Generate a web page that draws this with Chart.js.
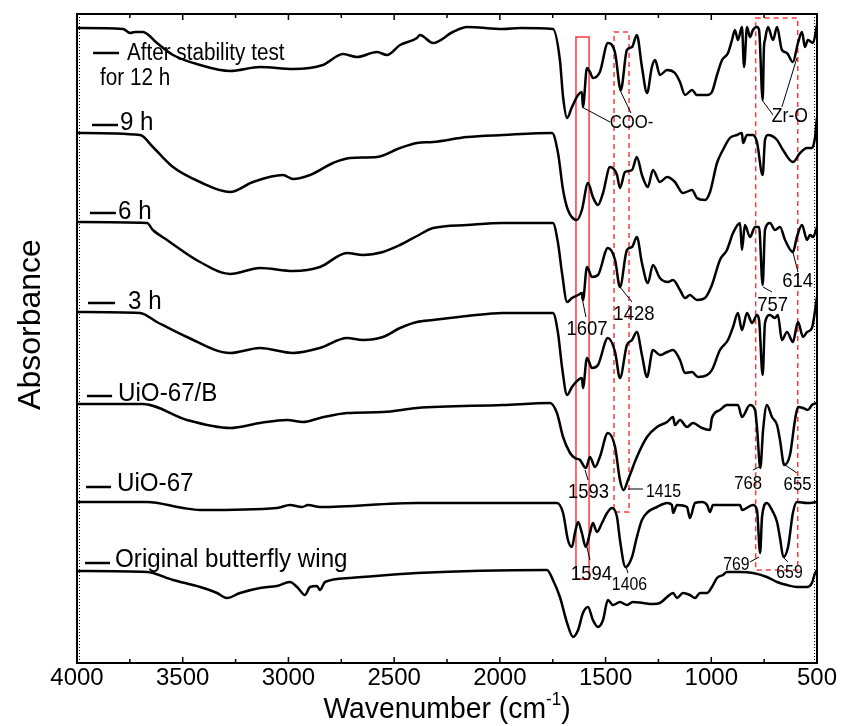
<!DOCTYPE html>
<html>
<head>
<meta charset="utf-8">
<script src="https://cdn.jsdelivr.net/npm/chart.js@4.4.0/dist/chart.umd.min.js"></script>
<style>
html, body { margin: 0; padding: 0; background: #fff; }
</style>
</head>
<body>
<canvas id="ftirChart" width="841" height="726"></canvas>
<script>
// FTIR spectra, stacked (arbitrary absorbance offsets)
var seriesNames = ['After stability test', '9 h', '6 h', ' 3 h', 'UiO-67/B', 'UiO-67', 'Original butterfly wing'];
var xTicks = [4000, 3500, 3000, 2500, 2000, 1500, 1000, 500];

var wn12h = [4000,3782,3749,3726,3688,3622,3546,3418,3276,3134,2978,2837,2742,2676,2581,2534,2472,2392,2378,2316,2222,2155,1985,1905,1749,1716,1701,1682,1659,1630,1612,1607,1588,1574,1560,1527,1489,1455,1428,1399,1375,1352,1328,1304,1281,1266,1243,1209,1172,1148,1124,1091,1068,1020,997,973,949,921,902,888,874,855,845,831,817,803,784,774,757,751,746,732,708,689,666,642,614,590,571,557,543,519,500];
var ab12h = [6.35,6.34,6.30,6.31,6.31,6.20,6.08,5.98,5.92,5.96,5.94,5.98,6.09,6.06,6.11,6.08,6.18,6.25,6.28,6.20,6.31,6.36,6.34,6.35,6.34,6.03,5.66,5.45,5.56,5.68,5.71,5.56,5.95,5.91,5.85,5.91,6.20,6.10,5.73,6.13,6.16,6.28,5.96,5.70,5.96,6.03,5.88,5.93,5.90,5.81,5.68,5.73,5.68,5.68,5.71,5.88,6.03,6.10,6.23,6.33,6.23,6.36,5.96,6.36,6.26,6.33,6.36,6.33,5.63,6.15,6.23,6.36,6.23,6.36,6.13,6.10,6.01,6.20,6.31,6.16,6.23,6.20,6.38];

var wn9h = [4000,3702,3641,3546,3418,3276,3168,3026,2978,2898,2789,2709,2581,2472,2392,2316,2155,1985,1753,1725,1701,1678,1635,1612,1583,1560,1536,1512,1479,1446,1432,1408,1375,1352,1328,1300,1276,1243,1209,1172,1134,1091,1068,1030,1006,973,945,912,878,855,850,831,803,784,757,746,732,689,661,614,580,547,524,509,500];
var ab9h = [5.30,5.28,5.16,4.96,4.81,4.71,4.81,4.88,4.84,4.88,5.00,5.05,5.06,5.15,5.20,5.21,5.26,5.28,5.30,5.10,4.73,4.53,4.43,4.53,4.80,4.66,4.58,4.70,4.96,4.88,4.75,4.91,4.93,5.06,4.88,4.76,4.93,4.81,4.86,4.81,4.70,4.73,4.65,4.63,4.71,5.00,5.13,5.25,5.28,5.30,5.20,5.28,5.28,5.21,4.88,5.23,5.28,5.23,5.13,5.01,5.10,5.15,5.15,5.26,5.46];

var wn6h = [4000,3669,3641,3574,3418,3276,3134,2978,2851,2723,2647,2553,2472,2392,2316,2155,1985,1749,1725,1706,1682,1659,1630,1612,1607,1588,1564,1536,1489,1455,1432,1399,1375,1352,1328,1300,1276,1243,1205,1181,1148,1124,1101,1068,1030,997,959,926,897,864,855,841,817,793,774,757,746,722,699,675,651,614,595,571,547,533,519,500];
var ab6h = [4.41,4.40,4.33,4.23,4.01,3.89,3.95,3.92,3.96,4.10,4.08,4.11,4.18,4.27,4.35,4.38,4.40,4.40,4.20,3.90,3.61,3.65,3.68,3.70,3.63,3.96,3.86,3.88,4.15,4.03,3.76,4.13,4.16,4.26,4.00,3.80,3.98,3.85,3.81,3.83,3.73,3.65,3.68,3.63,3.65,3.78,4.03,4.13,4.30,4.40,4.13,4.38,4.26,4.36,4.36,3.78,4.33,4.40,4.33,4.36,4.23,4.11,4.26,4.38,4.23,4.28,4.26,4.36];

var wn3h = [4000,3702,3622,3480,3276,3134,2978,2851,2723,2647,2553,2472,2392,2316,2155,1985,1749,1725,1706,1682,1659,1630,1612,1607,1588,1564,1536,1489,1455,1432,1399,1375,1352,1328,1304,1276,1243,1209,1181,1148,1124,1091,1063,1020,997,959,921,897,874,855,831,807,784,774,757,746,722,699,685,666,642,614,590,566,547,524,500];
var ab3h = [3.51,3.50,3.41,3.26,3.10,3.15,3.10,3.15,3.25,3.23,3.26,3.35,3.41,3.43,3.47,3.50,3.50,3.30,2.96,2.68,2.76,2.83,2.85,2.75,3.05,2.95,2.98,3.25,3.11,2.85,3.18,3.23,3.31,3.08,2.86,3.13,3.08,3.11,3.13,3.03,2.90,2.91,2.86,2.88,2.93,3.13,3.23,3.36,3.50,3.33,3.50,3.40,3.48,3.43,2.88,3.40,3.48,3.45,3.48,3.23,3.31,3.21,3.41,3.26,3.31,3.35,3.66];

var wnB = [4000,3688,3480,3276,3134,3007,2931,2851,2723,2553,2392,1985,1763,1730,1701,1668,1645,1621,1593,1574,1550,1527,1489,1455,1432,1415,1394,1352,1304,1257,1209,1181,1172,1148,1115,1087,1044,1006,997,959,926,874,855,817,793,784,768,755,737,713,689,675,655,628,604,590,566,543,524,500];
var abB = [2.59,2.59,2.43,2.35,2.40,2.43,2.41,2.45,2.50,2.51,2.55,2.58,2.60,2.50,2.26,2.10,2.05,2.03,1.95,2.06,1.96,2.06,2.30,2.16,1.83,1.73,1.83,2.06,2.26,2.36,2.41,2.46,2.38,2.43,2.36,2.40,2.35,2.33,2.45,2.53,2.58,2.58,2.46,2.58,2.53,2.36,1.95,2.33,2.58,2.46,2.38,2.23,1.98,2.08,2.43,2.56,2.55,2.53,2.58,2.60];

var wn67 = [4000,3669,3499,3418,3054,2993,2936,2907,2851,2392,1730,1701,1678,1659,1645,1630,1612,1594,1574,1560,1541,1517,1493,1470,1446,1432,1406,1375,1352,1328,1300,1257,1209,1186,1181,1162,1115,1101,1077,1044,1020,1006,992,864,855,803,784,769,760,737,713,689,675,659,637,614,595,547,500];
var ab67 = [1.61,1.61,1.55,1.53,1.55,1.58,1.56,1.58,1.56,1.60,1.60,1.50,1.23,1.16,1.30,1.41,1.30,1.16,1.30,1.40,1.31,1.40,1.50,1.55,1.46,1.23,0.96,1.06,1.26,1.43,1.51,1.56,1.60,1.58,1.50,1.58,1.56,1.45,1.60,1.61,1.58,1.51,1.58,1.58,1.53,1.58,1.53,1.10,1.46,1.60,1.53,1.41,1.25,1.06,1.16,1.50,1.61,1.60,1.61];

var wnOW = [4000,3669,3546,3418,3338,3291,3229,3134,3054,2993,2959,2922,2898,2865,2851,2827,2709,2392,1777,1749,1716,1682,1654,1630,1607,1583,1560,1536,1512,1489,1465,1432,1399,1371,1323,1276,1243,1209,1181,1162,1134,1101,1077,1053,1020,997,973,945,926,864,803,737,689,642,595,547,524,509,500];
var abOW = [0.92,0.91,0.83,0.76,0.70,0.65,0.70,0.75,0.77,0.81,0.76,0.68,0.76,0.77,0.73,0.81,0.85,0.90,0.93,0.83,0.66,0.40,0.26,0.33,0.50,0.56,0.43,0.36,0.43,0.63,0.58,0.61,0.58,0.61,0.60,0.59,0.60,0.66,0.70,0.65,0.70,0.68,0.65,0.70,0.70,0.76,0.85,0.88,0.91,0.91,0.90,0.86,0.81,0.78,0.76,0.76,0.80,0.90,0.93];

var peakTexts = ['COO-', 'Zr-O', '1607', '1428', '614', '757', '1593', '1415', '768', '655', '1594', '1406', '769', '659'];

// ---- drawing setup (positions in data units: wavenumber, absorbance) ----
var FONT = '"Liberation Sans", Arial, Helvetica, sans-serif';
var RED = '#ff3b3b';

var legendPos = [
  { line: [3924, 3801, 6.10], text: [3764, 6.03], size: 23, sx: 0.9 },
  { line: [3929, 3806, 5.38], text: [3797, 5.33], size: 26, sx: 0.93 },
  { line: [3939, 3816, 4.50], text: [3806, 4.44], size: 26, sx: 0.93 },
  { line: [3948, 3820, 3.60], text: [3790, 3.54], size: 26, sx: 0.93 },
  { line: [3953, 3834, 2.67], text: [3806, 2.62], size: 26, sx: 0.93 },
  { line: [3957, 3839, 1.76], text: [3811, 1.72], size: 26, sx: 0.93 },
  { line: [3962, 3844, 1.00], text: [3820, 0.96], size: 26, sx: 0.93 }
];
var legendExtra = { text: 'for 12 h', pos: [3891, 5.78], size: 23, sx: 0.9 };

var peakPos = [
  { x: 1377, y: 5.35, s: 19, l: [[1612, 5.56, 1479, 5.41], [1432, 5.73, 1380, 5.50]] },
  { x: 628, y: 5.41, s: 20, l: [[760, 5.63, 708, 5.48], [595, 6.05, 666, 5.56]] },
  { x: 1588, y: 3.28, s: 21, l: [[1612, 3.66, 1593, 3.46]] },
  { x: 1366, y: 3.43, s: 21, l: [[1432, 3.76, 1375, 3.61]] },
  { x: 592, y: 3.76, s: 21, l: [[613, 4.10, 590, 3.91]] },
  { x: 710, y: 3.52, s: 21, l: [[755, 3.76, 713, 3.71]] },
  { x: 1581, y: 1.65, s: 21, l: [[1597, 1.93, 1583, 1.83]] },
  { x: 1226, y: 1.66, s: 18, l: [[1394, 1.74, 1323, 1.74]] },
  { x: 826, y: 1.74, s: 19, l: [[803, 1.93, 774, 1.96]] },
  { x: 592, y: 1.73, s: 19, l: [[651, 1.98, 595, 1.90]] },
  { x: 1567, y: 0.83, s: 21, l: [[1588, 1.16, 1574, 1.03]] },
  { x: 1387, y: 0.73, s: 18, l: [[1403, 0.96, 1394, 0.90]] },
  { x: 881, y: 0.93, s: 18, l: [[817, 1.01, 774, 1.06]] },
  { x: 630, y: 0.85, s: 18, l: [[661, 1.06, 637, 1.01]] }
];

var boxes = [
  { x1: 1640, x2: 1578, y1: 6.26, y2: 0.84, dash: [] },
  { x1: 1460, x2: 1389, y1: 6.31, y2: 1.51, dash: [5, 4] },
  { x1: 790, x2: 591, y1: 6.45, y2: 0.93, dash: [5, 4] }
];

function pairs(xs, ys) {
  return xs.map(function (x, i) { return { x: x, y: ys[i] }; });
}

function drawText(ctx, str, x, y, size, align, sx) {
  ctx.save();
  ctx.font = size + 'px ' + FONT;
  ctx.fillStyle = '#000';
  ctx.textAlign = align;
  ctx.textBaseline = 'alphabetic';
  ctx.translate(x, y);
  ctx.scale(sx, 1);
  ctx.fillText(str, 0, 0);
  ctx.restore();
}

var decor = {
  id: 'decor',
  beforeDatasetsDraw: function (chart) {
    var ctx = chart.ctx, xs = chart.scales.x, ys = chart.scales.y;
    ctx.save();
    ctx.strokeStyle = RED;
    ctx.lineWidth = 1.5;
    boxes.forEach(function (b) {
      ctx.setLineDash(b.dash);
      var l = xs.getPixelForValue(b.x1), r = xs.getPixelForValue(b.x2);
      var t = ys.getPixelForValue(b.y1), btm = ys.getPixelForValue(b.y2);
      ctx.strokeRect(l, t, r - l, btm - t);
    });
    ctx.restore();
  },
  afterDraw: function (chart) {
    var ctx = chart.ctx, a = chart.chartArea, xs = chart.scales.x, ys = chart.scales.y;
    ctx.save();
    // frame
    ctx.strokeStyle = '#000';
    ctx.lineWidth = 2;
    ctx.strokeRect(a.left, a.top, a.right - a.left, a.bottom - a.top);
    // inward ticks top and bottom
    ctx.lineWidth = 1.5;
    for (var v = 750; v < 4000; v += 250) {
      var px = xs.getPixelForValue(v);
      var len = (v % 500 === 0) ? 6 : 4;
      ctx.beginPath();
      ctx.moveTo(px, a.bottom); ctx.lineTo(px, a.bottom - len);
      ctx.moveTo(px, a.top); ctx.lineTo(px, a.top + len);
      ctx.stroke();
    }
    // fine dotted ticks along left and right axes
    ctx.lineWidth = 1;
    ctx.setLineDash([1, 2]);
    ctx.beginPath();
    ctx.moveTo(a.left + 2.5, a.top); ctx.lineTo(a.left + 2.5, a.bottom);
    ctx.moveTo(a.right - 2.5, a.top); ctx.lineTo(a.right - 2.5, a.bottom);
    ctx.stroke();
    ctx.setLineDash([]);

    // series labels with short line keys
    ctx.lineWidth = 2.5;
    legendPos.forEach(function (p, i) {
      var y = ys.getPixelForValue(p.line[2]);
      ctx.beginPath();
      ctx.moveTo(xs.getPixelForValue(p.line[0]), y);
      ctx.lineTo(xs.getPixelForValue(p.line[1]), y);
      ctx.stroke();
      drawText(ctx, seriesNames[i], xs.getPixelForValue(p.text[0]), ys.getPixelForValue(p.text[1]), p.size, 'left', p.sx);
    });
    drawText(ctx, legendExtra.text, xs.getPixelForValue(legendExtra.pos[0]), ys.getPixelForValue(legendExtra.pos[1]), legendExtra.size, 'left', legendExtra.sx);

    // peak labels and leader lines
    ctx.lineWidth = 1;
    peakPos.forEach(function (p, i) {
      p.l.forEach(function (s) {
        ctx.beginPath();
        ctx.moveTo(xs.getPixelForValue(s[0]), ys.getPixelForValue(s[1]));
        ctx.lineTo(xs.getPixelForValue(s[2]), ys.getPixelForValue(s[3]));
        ctx.stroke();
      });
      drawText(ctx, peakTexts[i], xs.getPixelForValue(p.x), ys.getPixelForValue(p.y), p.s, 'center', 0.88);
    });

    // axis titles
    ctx.save();
    ctx.translate(a.left - 46, (a.top + a.bottom) / 2 - 14);
    ctx.rotate(-Math.PI / 2);
    ctx.font = '32px ' + FONT;
    ctx.fillStyle = '#000';
    ctx.textAlign = 'center';
    ctx.textBaseline = 'middle';
    ctx.fillText('Absorbance', 0, 0);
    ctx.restore();

    ctx.save();
    var main = 'Wavenumber (cm', sup = '-1', close = ')';
    ctx.font = '30px ' + FONT;
    var w1 = ctx.measureText(main).width, w3 = ctx.measureText(close).width;
    ctx.font = '18px ' + FONT;
    var w2 = ctx.measureText(sup).width;
    var sx = 0.945, total = (w1 + w2 + w3) * sx;
    var x0 = (a.left + a.right) / 2 - total / 2, base = a.bottom + 55;
    ctx.translate(x0, base);
    ctx.scale(sx, 1);
    ctx.fillStyle = '#000';
    ctx.textBaseline = 'alphabetic';
    ctx.font = '30px ' + FONT;
    ctx.fillText(main, 0, 0);
    ctx.font = '18px ' + FONT;
    ctx.fillText(sup, w1, -13);
    ctx.font = '30px ' + FONT;
    ctx.fillText(close, w1 + w2, 0);
    ctx.restore();

    ctx.restore();
  }
};

var allWn = [wn12h, wn9h, wn6h, wn3h, wnB, wn67, wnOW];
var allAb = [ab12h, ab9h, ab6h, ab3h, abB, ab67, abOW];

var ctx = document.getElementById('ftirChart').getContext('2d');
var ftirChart = new Chart(ctx, {
  type: 'line',
  data: {
    datasets: allWn.map(function (w, i) {
      return {
        label: seriesNames[i],
        data: pairs(w, allAb[i]),
        borderColor: '#000',
        borderWidth: 2.5,
        borderJoinStyle: 'round',
        pointRadius: 0,
        cubicInterpolationMode: 'monotone',
        fill: false
      };
    })
  },
  options: {
    responsive: false,
    animation: false,
    layout: { padding: { top: 14, right: 24, left: 0, bottom: 0 } },
    plugins: { legend: { display: false }, tooltip: { enabled: false } },
    scales: {
      x: {
        type: 'linear',
        reverse: true,
        min: 500,
        max: 4000,
        afterBuildTicks: function (s) { s.ticks = xTicks.map(function (v) { return { value: v }; }); },
        ticks: {
          color: '#000', font: { family: FONT, size: 24 }, padding: 1, maxRotation: 0, autoSkip: false,
          callback: function (v) { return String(v); }
        },
        grid: { display: false, drawTicks: false },
        border: { display: false },
        afterFit: function (s) { s.height = 63; }
      },
      y: {
        min: 0,
        max: 6.49,
        ticks: { display: false },
        grid: { display: false, drawTicks: false },
        border: { display: false },
        afterFit: function (s) { s.width = 77; }
      }
    }
  },
  plugins: [decor]
});
</script>
</body>
</html>
